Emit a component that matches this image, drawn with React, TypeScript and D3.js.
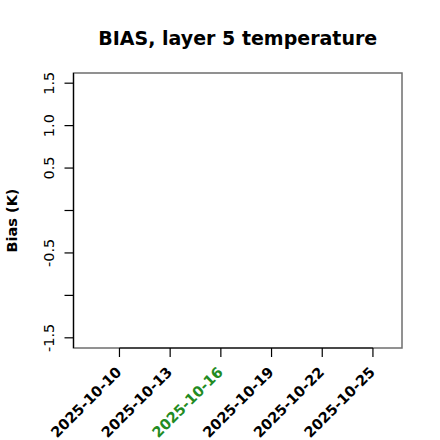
import React from "react";
import * as d3 from "d3";

const title = "BIAS, layer 5 temperature";
const yLabel = "Bias (K)";
const dataStart = "2025-10-08";
const dataEnd = "2025-10-26";
const xTickDates = ["2025-10-10", "2025-10-13", "2025-10-16", "2025-10-19", "2025-10-22", "2025-10-25"];
const highlightDate = "2025-10-16";
const yTickValues = [-1.5, -1.0, -0.5, 0, 0.5, 1.0, 1.5];
const yTickLabels = ["-1.5", "", "-0.5", "", "0.5", "1.0", "1.5"];
const yDataRange = [-1.5, 1.5];

const W = 440, H = 440;
const L = 73.5, R = 402, T = 73, B = 348;
const FONT = "'DejaVu Sans', sans-serif";

export default function App() {
  const parse = (s: string) => new Date(s + "T00:00:00Z");
  const x0 = parse(dataStart).getTime();
  const x1 = parse(dataEnd).getTime();
  const xpad = (x1 - x0) * 0.04;
  const x = d3.scaleUtc().domain([new Date(x0 - xpad), new Date(x1 + xpad)]).range([L, R]);
  const ypad = (yDataRange[1] - yDataRange[0]) * 0.04;
  const y = d3.scaleLinear().domain([yDataRange[0] - ypad, yDataRange[1] + ypad]).range([B, T]);
  const fmt = d3.utcFormat("%Y-%m-%d");
  const xt = xTickDates.map(parse);

  return (
    <svg width={W} height={H} style={{ position: "absolute", left: 0, top: 0 }}>
      <rect x={0} y={0} width={W} height={H} fill="#fff" />
      <text x={(L + R) / 2} y={45} textAnchor="middle" fontFamily={FONT} fontWeight="bold" fontSize={19}>{title}</text>
      <rect x={L} y={T} width={R - L} height={B - T} fill="none" stroke="#6e6e6e" strokeWidth={1.5} />
      {/* y axis */}
      <line x1={L} x2={L} y1={T} y2={B} stroke="#000" strokeWidth={1.2} />
      {yTickValues.map((v, i) => (
        <g key={i}>
          <line x1={L - 9} x2={L} y1={y(v)} y2={y(v)} stroke="#000" strokeWidth={1.2} />
          {yTickLabels[i] && (
            <text transform={`translate(${L - 20},${y(v)}) rotate(-90)`} textAnchor="middle" fontFamily={FONT} fontSize={14.5}>{yTickLabels[i]}</text>
          )}
        </g>
      ))}
      <text transform={`translate(17,${(T + B) / 2 + 10}) rotate(-90)`} textAnchor="middle" fontFamily={FONT} fontWeight="bold" fontSize={14.5}>{yLabel}</text>
      {/* x axis */}
      <line x1={x(xt[0])} x2={x(xt[xt.length - 1])} y1={B} y2={B} stroke="#000" strokeWidth={1.2} />
      {xt.map((d, i) => (
        <g key={i}>
          <line x1={x(d)} x2={x(d)} y1={B} y2={B + 9} stroke="#000" strokeWidth={1.2} />
          <text transform={`translate(${x(d) + 3},${B + 25}) rotate(-45)`} textAnchor="end" fontFamily={FONT} fontWeight="bold" fontSize={14.5}
            fill={fmt(d) === highlightDate ? "#228B22" : "#000"}>{fmt(d)}</text>
        </g>
      ))}
    </svg>
  );
}
